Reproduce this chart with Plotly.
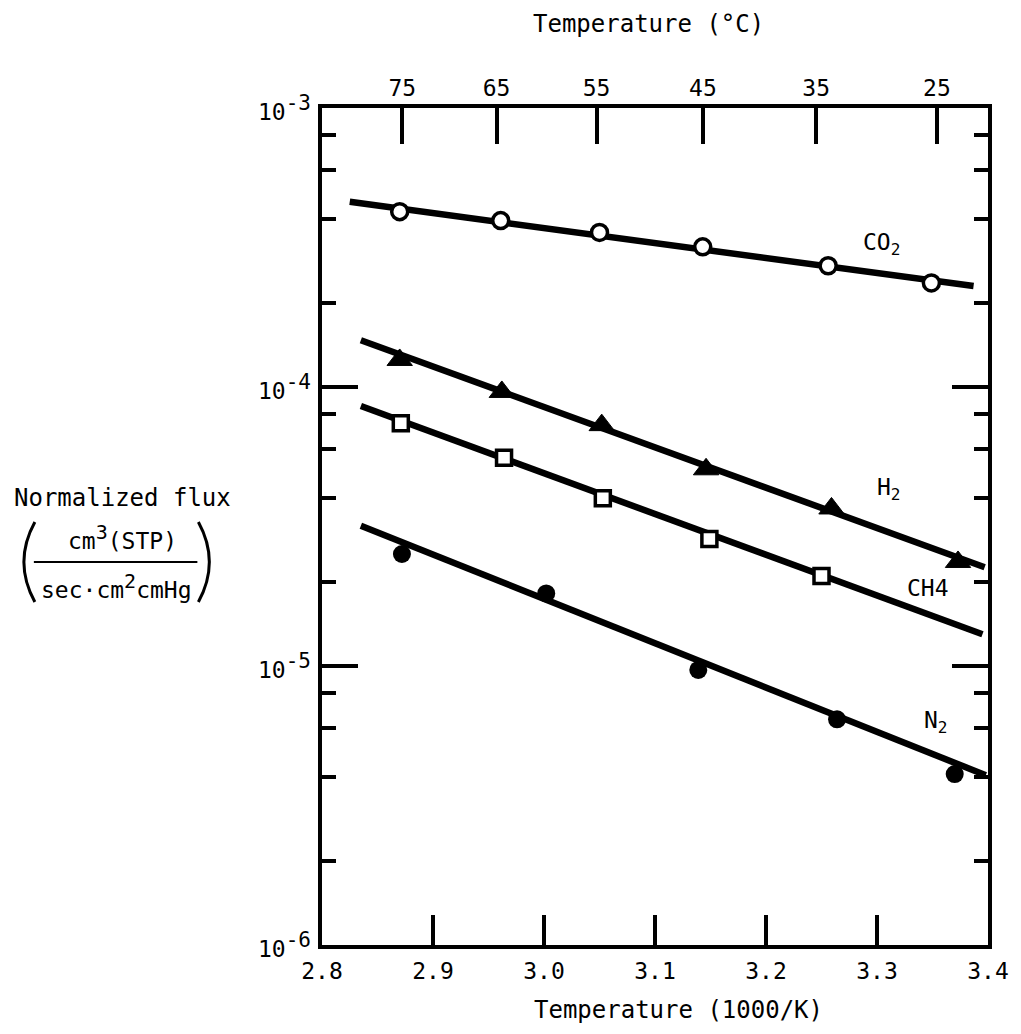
import math
import plotly.graph_objects as go

# ---------------- data ----------------
inv_t_co2 = [2.870, 2.961, 3.050, 3.143, 3.256, 3.349]
flux_co2 = [4.25e-4, 3.95e-4, 3.58e-4, 3.18e-4, 2.72e-4, 2.36e-4]
fit_x_co2 = [2.825, 3.387]
fit_y_co2 = [4.61e-4, 2.30e-4]

inv_t_h2 = [2.870, 2.962, 3.052, 3.146, 3.259, 3.373]
flux_h2 = [1.25e-4, 9.6e-5, 7.3e-5, 5.07e-5, 3.67e-5, 2.36e-5]
fit_x_h2 = [2.835, 3.397]
fit_y_h2 = [1.47e-4, 2.26e-5]

inv_t_ch4 = [2.871, 2.964, 3.053, 3.149, 3.250]
flux_ch4 = [7.41e-5, 5.58e-5, 3.99e-5, 2.85e-5, 2.10e-5]
fit_x_ch4 = [2.835, 3.395]
fit_y_ch4 = [8.55e-5, 1.30e-5]

inv_t_n2 = [2.872, 3.002, 3.139, 3.264, 3.370]
flux_n2 = [2.52e-5, 1.82e-5, 9.68e-6, 6.44e-6, 4.10e-6]
fit_x_n2 = [2.835, 3.398]
fit_y_n2 = [3.18e-5, 4.06e-6]

x_ticks = [2.8, 2.9, 3.0, 3.1, 3.2, 3.3, 3.4]
x_ticktext = ["2.8", "2.9", "3.0", "3.1", "3.2", "3.3", "3.4"]
celsius_ticks = [75, 65, 55, 45, 35, 25]
y_major = [1e-6, 1e-5, 1e-4, 1e-3]
y_exponents = ["-6", "-5", "-4", "-3"]
y_minor_mult = [2, 4, 6, 8]

series_labels = ["CO<sub>2</sub>", "H<sub>2</sub>", "CH4", "N<sub>2</sub>"]
label_x = [3.304, 3.311, 3.346, 3.353]
label_logy = [-3.487, -4.366, -4.720, -5.201]

# ---------------- figure ----------------
FONT = "DejaVu Sans Mono"
W, H = 1021, 1034
L, R, T, B = 322, 31, 108, 89
PW, PH = W - L - R, H - T - B


def px(x):
    return (x - L) / PW


def py(y):
    return (H - B - y) / PH


def sup(s, size=20):
    return f"<sup><span style='font-size:{size}px'>{s}</span></sup>"


fig = go.Figure()
LW = 6.5
for fx, fy in [(fit_x_co2, fit_y_co2), (fit_x_h2, fit_y_h2),
               (fit_x_ch4, fit_y_ch4), (fit_x_n2, fit_y_n2)]:
    fig.add_trace(go.Scatter(x=fx, y=fy, mode="lines",
                             line=dict(color="black", width=LW),
                             showlegend=False, hoverinfo="skip"))

fig.add_trace(go.Scatter(x=inv_t_co2, y=flux_co2, mode="markers", xaxis="x2",
                         marker=dict(symbol="circle", size=16, color="white",
                                     line=dict(color="black", width=3.5)),
                         showlegend=False))
fig.add_trace(go.Scatter(x=inv_t_h2, y=flux_h2, mode="markers",
                         marker=dict(symbol="triangle-up", size=22, color="black",
                                     line=dict(color="black", width=1)),
                         showlegend=False))
fig.add_trace(go.Scatter(x=inv_t_ch4, y=flux_ch4, mode="markers",
                         marker=dict(symbol="square", size=15, color="white",
                                     line=dict(color="black", width=3.5)),
                         showlegend=False))
fig.add_trace(go.Scatter(x=inv_t_n2, y=flux_n2, mode="markers", yaxis="y2",
                         marker=dict(symbol="circle", size=18, color="black"),
                         showlegend=False))

minor_vals = [m * d for d in [1e-6, 1e-5, 1e-4] for m in y_minor_mult]

yax = dict(type="log", range=[-6, -3], tickvals=y_major,
           showticklabels=False,
           ticks="inside", ticklen=36, tickwidth=4, tickcolor="black",
           minor=dict(tickvals=minor_vals, ticks="inside", ticklen=14,
                      tickwidth=4, tickcolor="black"),
           showgrid=False, zeroline=False, showline=True, linewidth=4,
           linecolor="black")

fig.update_layout(
    width=W, height=H,
    margin=dict(l=L, r=R, t=T, b=B),
    paper_bgcolor="white", plot_bgcolor="white",
    font=dict(family=FONT, size=23, color="black"),
    xaxis=dict(range=[2.8, 3.4], tickvals=x_ticks, ticktext=x_ticktext,
               ticks="inside", ticklen=30, tickwidth=4, tickcolor="black",
               showgrid=False, zeroline=False, showline=True, linewidth=4,
               linecolor="black", mirror=True,
               tickfont=dict(family=FONT, size=23, color="black"),
               ticklabelstandoff=2),
    xaxis2=dict(range=[2.8, 3.4], overlaying="x", side="top",
                tickvals=[1000 / (c + 273.15) for c in celsius_ticks],
                ticktext=[str(c) for c in celsius_ticks],
                ticks="inside", ticklen=36, tickwidth=4, tickcolor="black",
                showgrid=False, zeroline=False, showline=False,
                tickfont=dict(family=FONT, size=23, color="black"),
                ticklabelstandoff=6),
    yaxis=yax,
    yaxis2=dict(yax, overlaying="y", side="right"),
)


def note(x, y, text, size=23):
    return dict(x=px(x), y=py(y), xref="paper", yref="paper", text=text,
                xanchor="center", yanchor="middle", showarrow=False,
                font=dict(family=FONT, size=size))


annotations = []
# y-axis tick labels (10^n with a near full-size exponent)
for val, e in zip(y_major, y_exponents):
    annotations.append(dict(x=px(313), y=math.log10(val), xref="paper", yref="y",
                            text="10" + sup(e, 21), xanchor="right",
                            yanchor="middle", showarrow=False,
                            font=dict(family=FONT, size=23)))

for txt, lx, ly in zip(series_labels, label_x, label_logy):
    annotations.append(dict(x=lx, y=ly, xref="x", yref="y", text=txt,
                            xanchor="center", yanchor="middle",
                            showarrow=False, font=dict(family=FONT, size=23)))

annotations += [
    note(649, 24, "Temperature (°C)", 24),
    note(680, 1010, "Temperature (1000/K)", 24),
    note(122, 498, "Normalized flux", 24),
    note(122, 537, "cm" + sup("3", 20) + "(STP)", 23),
    note(116, 586, "sec·cm" + sup("2", 20) + "cmHg", 23),
]
fig.update_layout(annotations=annotations)

shapes = [
    dict(type="line", xref="paper", yref="paper", x0=px(33), x1=px(197),
         y0=py(562), y1=py(562), line=dict(color="black", width=2)),
    dict(type="path", xref="paper", yref="paper",
         path=f"M {px(34)},{py(522)} Q {px(12)},{py(562)} {px(34)},{py(602)}",
         line=dict(color="black", width=3)),
    dict(type="path", xref="paper", yref="paper",
         path=f"M {px(198)},{py(522)} Q {px(220)},{py(562)} {px(198)},{py(602)}",
         line=dict(color="black", width=3)),
]
fig.update_layout(shapes=shapes)

fig.write_html("out.html")
